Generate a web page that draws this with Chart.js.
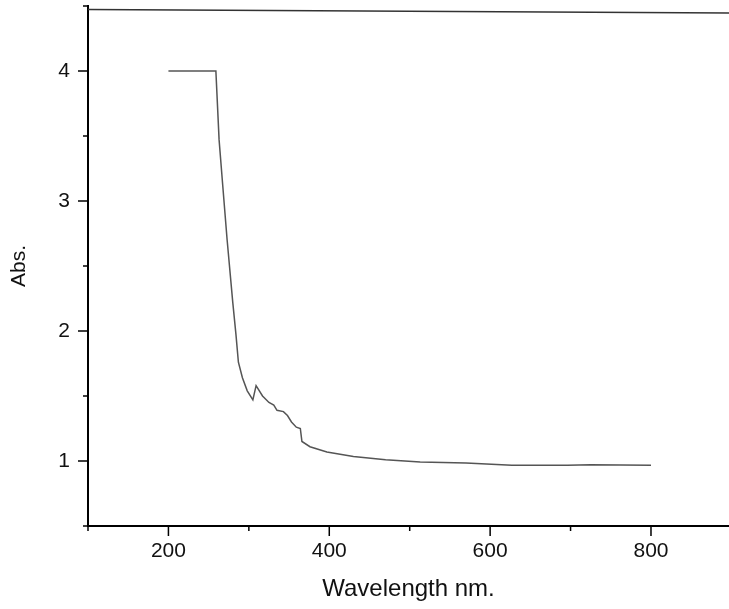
<!DOCTYPE html>
<html>
<head>
<meta charset="utf-8">
<script src="https://cdn.jsdelivr.net/npm/chart.js@4/dist/chart.umd.min.js"></script>
<style>
  html, body { margin: 0; padding: 0; background: #fff; overflow: hidden; }
  canvas { display: block; }
</style>
</head>
<body>
<canvas id="absChart" width="729" height="609"></canvas>
<script>
// spectrum
const wavelengths = [200, 259, 263, 267, 273, 280, 284, 287, 292, 298, 305, 309, 317, 325, 331, 335, 343, 348, 353, 359, 364, 366, 376, 397, 430, 470, 513, 570, 627, 696, 725, 800];
const absorbance = [4.0, 4.0, 3.47, 3.16, 2.70, 2.22, 1.97, 1.76, 1.64, 1.54, 1.47, 1.58, 1.50, 1.45, 1.43, 1.39, 1.38, 1.35, 1.30, 1.26, 1.25, 1.15, 1.11, 1.07, 1.035, 1.01, 0.992, 0.985, 0.968, 0.968, 0.972, 0.968];

// the slanted frame line along the top
const frameX = [100, 897];
const frameY = [4.473, 4.446];

const xTickValues = [100, 200, 300, 400, 500, 600, 700, 800];
const xTickLabels = [200, 400, 600, 800];
const yTickValues = [0.5, 1, 1.5, 2, 2.5, 3, 3.5, 4, 4.5];
const yTickLabels = [1, 2, 3, 4];

const toPoints = (xs, ys) => xs.map((x, i) => ({ x: x, y: ys[i] }));

// tick marks: long for labelled ticks, short for the others
const tickMarks = {
    id: 'tickMarks',
    afterDraw(chart) {
        const ctx = chart.ctx;
        const xs = chart.scales.x;
        const ys = chart.scales.y;
        ctx.save();
        ctx.strokeStyle = '#000';
        ctx.lineWidth = 1.5;
        ctx.beginPath();
        xs.ticks.forEach(t => {
            const px = xs.getPixelForValue(t.value);
            const len = xTickLabels.includes(t.value) ? 10 : 5;
            ctx.moveTo(px, xs.top);
            ctx.lineTo(px, xs.top + len);
        });
        ys.ticks.forEach(t => {
            const py = ys.getPixelForValue(t.value);
            const len = yTickLabels.includes(t.value) ? 10 : 5;
            ctx.moveTo(ys.right - len, py);
            ctx.lineTo(ys.right, py);
        });
        ctx.stroke();
        ctx.restore();
    }
};

const ctx = document.getElementById('absChart').getContext('2d');

new Chart(ctx, {
    type: 'scatter',
    data: {
        datasets: [{
            data: toPoints(wavelengths, absorbance),
            showLine: true,
            borderColor: '#555',
            borderWidth: 1.5,
            pointRadius: 0,
            tension: 0
        },
        {
            data: toPoints(frameX, frameY),
            showLine: true,
            borderColor: '#333',
            borderWidth: 1.5,
            pointRadius: 0,
            tension: 0
        }]
    },
    options: {
        responsive: false,
        animation: false,
        layout: { padding: { top: 6, right: 0, bottom: 0, left: 0 } },
        plugins: {
            legend: { display: false },
            tooltip: { enabled: false }
        },
        scales: {
            x: {
                type: 'linear',
                min: 100,
                max: 897,
                grid: { display: false, drawTicks: false },
                border: { display: true, color: '#000', width: 2 },
                afterBuildTicks: s => { s.ticks = xTickValues.map(v => ({ value: v })); },
                afterFit: s => { s.height = 83; s.paddingLeft = 0; s.paddingRight = 0; },
                ticks: {
                    autoSkip: false,
                    maxRotation: 0,
                    padding: 13,
                    color: '#111',
                    font: { family: 'Liberation Sans', size: 21 },
                    callback: v => xTickLabels.includes(v) ? String(v) : ''
                },
                title: {
                    display: true,
                    text: 'Wavelength nm.',
                    color: '#111',
                    padding: { top: 0, bottom: 5 },
                    font: { family: 'Liberation Sans', size: 24 }
                }
            },
            y: {
                type: 'linear',
                min: 0.5,
                max: 4.5,
                grid: { display: false, drawTicks: false },
                border: { display: true, color: '#000', width: 2 },
                afterBuildTicks: s => { s.ticks = yTickValues.map(v => ({ value: v })); },
                afterFit: s => { s.width = 88; s.paddingTop = 0; s.paddingBottom = 0; },
                ticks: {
                    autoSkip: false,
                    padding: 18,
                    color: '#111',
                    font: { family: 'Liberation Sans', size: 21 },
                    callback: v => yTickLabels.includes(v) ? String(v) : ''
                },
                title: {
                    display: true,
                    text: 'Abs.',
                    color: '#111',
                    padding: { top: 7, bottom: 0 },
                    font: { family: 'Liberation Sans', size: 21 }
                }
            }
        }
    },
    plugins: [tickMarks]
});
</script>
</body>
</html>
